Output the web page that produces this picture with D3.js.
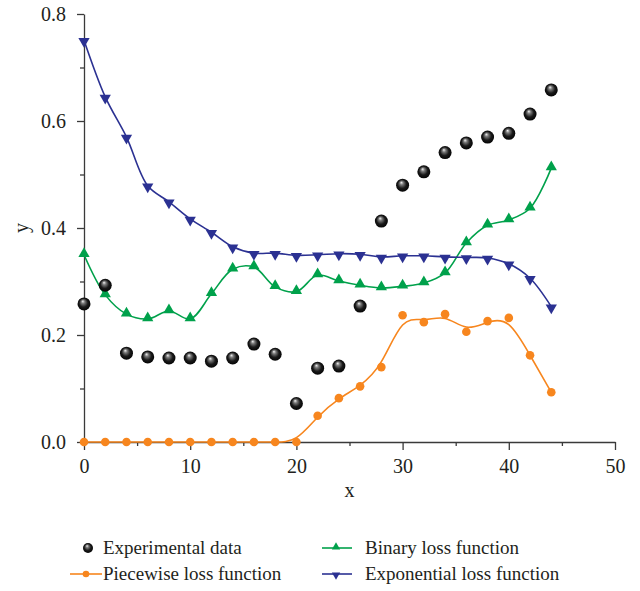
<!DOCTYPE html>
<html lang="en">
<head>
<meta charset="UTF-8">
<title>Loss functions vs experimental data</title>
<script src="https://d3js.org/d3.v7.min.js"></script>
<style>
  body { margin: 0; background: #fff; }
  .axis path, .axis line { stroke: #3a3a3a; stroke-width: 1.3; }
</style>
</head>
<body>
<div id="chart"></div>
<script>
// data
var xs = [0, 2, 4, 6, 8, 10, 12, 14, 16, 18, 20, 22, 24, 26, 28, 30, 32, 34, 36, 38, 40, 42, 44];
var experimental = [0.258, 0.293, 0.166, 0.159, 0.157, 0.157, 0.151, 0.157, 0.183, 0.164, 0.072, 0.138, 0.142, 0.254, 0.413, 0.480, 0.505, 0.541, 0.559, 0.570, 0.577, 0.613, 0.658];
var piecewise = [0, 0, 0, 0, 0, 0, 0, 0, 0, 0, 0, 0.049, 0.082, 0.104, 0.140, 0.237, 0.224, 0.239, 0.206, 0.226, 0.232, 0.162, 0.093];
var binary = [0.350, 0.275, 0.239, 0.230, 0.245, 0.230, 0.277, 0.323, 0.327, 0.290, 0.281, 0.312, 0.301, 0.293, 0.288, 0.291, 0.297, 0.316, 0.372, 0.405, 0.415, 0.437, 0.512];
var exponential = [0.751, 0.645, 0.570, 0.479, 0.449, 0.417, 0.392, 0.365, 0.353, 0.353, 0.349, 0.350, 0.352, 0.351, 0.346, 0.348, 0.348, 0.346, 0.345, 0.344, 0.333, 0.306, 0.253];

var xMajor = [0, 10, 20, 30, 40, 50];
var xMinor = [5, 15, 25, 35, 45];
var yMajor = [0, 0.2, 0.4, 0.6, 0.8];
var yMinor = [0.1, 0.3, 0.5, 0.7];

var W = 640, H = 591;
var margin = { left: 84, right: 25, top: 14, bottom: 149 };
var serif = "'Liberation Serif', 'Times New Roman', serif";

var svg = d3.select("#chart").append("svg")
    .attr("width", W)
    .attr("height", H)
    .attr("font-family", serif);

var defs = svg.append("defs");
var grad = defs.append("radialGradient")
    .attr("id", "ball")
    .attr("cx", "50%").attr("cy", "50%").attr("r", "55%")
    .attr("fx", "40%").attr("fy", "28%");
grad.append("stop").attr("offset", "0%").attr("stop-color", "#f4f4f4");
grad.append("stop").attr("offset", "25%").attr("stop-color", "#7a7a7a");
grad.append("stop").attr("offset", "60%").attr("stop-color", "#1a1a1a");
grad.append("stop").attr("offset", "100%").attr("stop-color", "#000");

var x = d3.scaleLinear().domain([0, 50]).range([margin.left, W - margin.right]);
var y = d3.scaleLinear().domain([0, 0.8]).range([H - margin.bottom, margin.top]);

// axes
var fmt = d3.format(".1f");
svg.append("g").attr("class", "axis")
    .attr("transform", "translate(" + margin.left + ",0)")
    .call(d3.axisLeft(y).tickValues(yMajor).tickFormat(fmt).tickSizeInner(7).tickSizeOuter(0).tickPadding(11));
svg.append("g").attr("class", "axis")
    .attr("transform", "translate(" + margin.left + ",0)")
    .call(d3.axisLeft(y).tickValues(yMinor).tickFormat("").tickSizeInner(4).tickSizeOuter(0))
    .select(".domain").remove();

svg.append("g").attr("class", "axis")
    .attr("transform", "translate(0," + y(0) + ")")
    .call(d3.axisBottom(x).tickValues(xMajor).tickFormat(d3.format("d")).tickSizeInner(8).tickSizeOuter(0).tickPadding(9));
svg.append("g").attr("class", "axis")
    .attr("transform", "translate(0," + y(0) + ")")
    .call(d3.axisBottom(x).tickValues(xMinor).tickFormat("").tickSizeInner(4).tickSizeOuter(0))
    .select(".domain").remove();

// d3 axis puts font-family="sans-serif" on its group; override it
svg.selectAll(".axis")
    .attr("font-family", serif)
    .attr("font-size", 20);
svg.selectAll(".axis text")
    .attr("fill", "#231f20");

svg.append("text")
    .attr("transform", "translate(28," + y(0.4) + ") rotate(-90)")
    .attr("text-anchor", "middle")
    .attr("font-size", 20)
    .attr("fill", "#231f20")
    .text("y");
svg.append("text")
    .attr("x", x(25))
    .attr("y", 497)
    .attr("text-anchor", "middle")
    .attr("font-size", 20)
    .attr("fill", "#231f20")
    .text("x");

// series
function lineOf(vals, curve) {
    return d3.line()
        .x(function(d, i) { return x(xs[i]); })
        .y(function(d) { return y(d); })
        .curve(curve)(vals);
}

var colors = { piecewise: "#f7861e", binary: "#00a14b", exponential: "#2b3192" };

var tri = d3.symbol().type(d3.symbolTriangle).size(55);

function drawLine(vals, color, curve) {
    svg.append("path")
        .attr("d", lineOf(vals, curve))
        .attr("fill", "none")
        .attr("stroke", color)
        .attr("stroke-width", 1.6);
}

drawLine(binary, colors.binary, d3.curveCatmullRom.alpha(0.5));
drawLine(exponential, colors.exponential, d3.curveCatmullRom.alpha(0.5));
drawLine(piecewise, colors.piecewise, d3.curveBasis);

svg.append("g").selectAll("path")
    .data(binary)
    .enter().append("path")
    .attr("d", tri)
    .attr("transform", function(d, i) { return "translate(" + x(xs[i]) + "," + (y(d) - 1) + ")"; })
    .attr("fill", colors.binary);

svg.append("g").selectAll("path")
    .data(exponential)
    .enter().append("path")
    .attr("d", tri)
    .attr("transform", function(d, i) { return "translate(" + x(xs[i]) + "," + (y(d) + 1) + ") rotate(180)"; })
    .attr("fill", colors.exponential);

svg.append("g").selectAll("circle")
    .data(piecewise)
    .enter().append("circle")
    .attr("cx", function(d, i) { return x(xs[i]); })
    .attr("cy", function(d) { return y(d); })
    .attr("r", 4.3)
    .attr("fill", colors.piecewise);

svg.append("g").selectAll("circle")
    .data(experimental)
    .enter().append("circle")
    .attr("cx", function(d, i) { return x(xs[i]); })
    .attr("cy", function(d) { return y(d); })
    .attr("r", 6.5)
    .attr("fill", "url(#ball)");

// legend
var legend = svg.append("g").attr("font-size", 19).attr("fill", "#231f20");

legend.append("circle").attr("cx", 88).attr("cy", 548).attr("r", 5).attr("fill", "url(#ball)");
legend.append("text").attr("x", 103).attr("y", 554).text("Experimental data");

legend.append("line").attr("x1", 70).attr("x2", 102).attr("y1", 574).attr("y2", 574)
    .attr("stroke", colors.piecewise).attr("stroke-width", 1.6);
legend.append("circle").attr("cx", 86).attr("cy", 574).attr("r", 3.3).attr("fill", colors.piecewise);
legend.append("text").attr("x", 103).attr("y", 580).text("Piecewise loss function");

legend.append("line").attr("x1", 322).attr("x2", 352).attr("y1", 548).attr("y2", 548)
    .attr("stroke", colors.binary).attr("stroke-width", 1.6);
legend.append("path").attr("d", d3.symbol().type(d3.symbolTriangle).size(30))
    .attr("transform", "translate(336,547)").attr("fill", colors.binary);
legend.append("text").attr("x", 365).attr("y", 554).text("Binary loss function");

legend.append("line").attr("x1", 322).attr("x2", 352).attr("y1", 574).attr("y2", 574)
    .attr("stroke", colors.exponential).attr("stroke-width", 1.6);
legend.append("path").attr("d", d3.symbol().type(d3.symbolTriangle).size(30))
    .attr("transform", "translate(336,575) rotate(180)").attr("fill", colors.exponential);
legend.append("text").attr("x", 365).attr("y", 580).text("Exponential loss function");
</script>
</body>
</html>
